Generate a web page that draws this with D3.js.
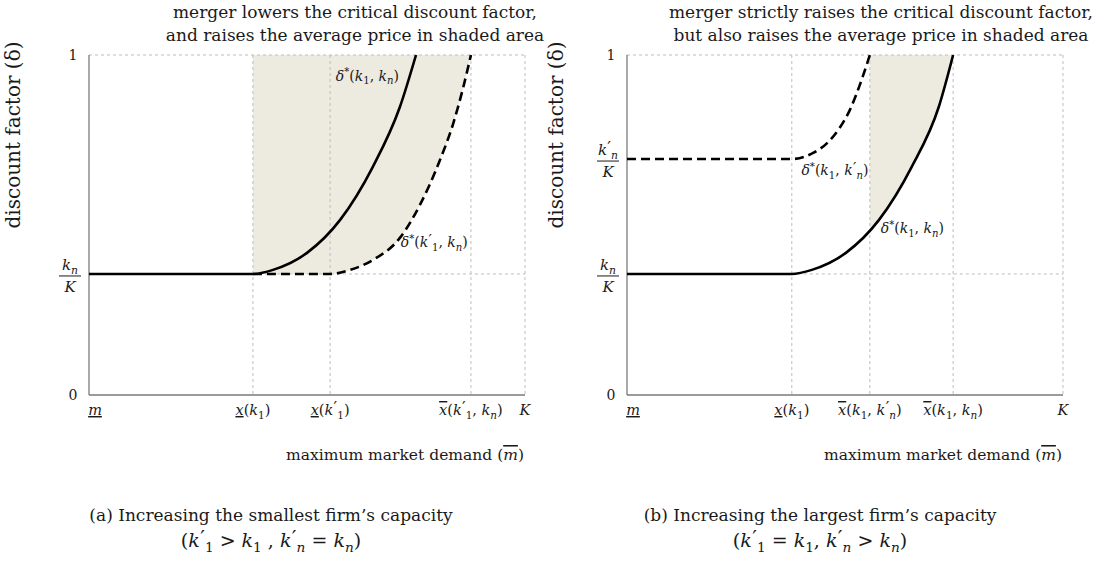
<!DOCTYPE html>
<html><head><meta charset="utf-8">
<script src="https://cdn.jsdelivr.net/npm/d3@7"></script>
<style>html,body{margin:0;padding:0;background:#fff;} svg{display:block;font-family:"DejaVu Serif",serif;}</style>
</head><body><svg id="c" width="1093" height="565"></svg>
<script>
// ---------------- Data ----------------
const yTitle = "discount factor (δ)";
const xTitle = "\\rm{maximum market demand (}\\ol{m}\\rm{)}";

// Panel (a): increasing the smallest firm's capacity
const aTitle = ["merger lowers the critical discount factor,", "and raises the average price in shaded area"];
const aCaption = ["\\rm{(a) Increasing the smallest firm’s capacity}", "(k'_{1} > k_{1} , k'_{n} = k_{n})"];
const aXTicks = [0, 0.376, 0.553, 0.876, 1];
const aXTickLabels = ["\\ul{m}", "\\ul{x}(k_{1})", "\\ul{x}(k'_{1})", "\\ol{x}(k'_{1}, k_{n})", "K"];
const aYTicks = [0, 0.356, 1];
const aYTickLabels = ["0", "k_{n}|K", "1"];
const aSolidX = [0, 0.376, 0.422, 0.500, 0.576, 0.651, 0.713, 0.750];
const aSolidY = [0.356, 0.356, 0.368, 0.418, 0.515, 0.671, 0.847, 1.000];
const aDashX = [0.376, 0.553, 0.599, 0.651, 0.713, 0.759, 0.805, 0.835, 0.858, 0.876];
const aDashY = [0.356, 0.356, 0.368, 0.397, 0.462, 0.559, 0.691, 0.797, 0.903, 1.000];
const aSolidLabel = "δ^{*}(k_{1}, k_{n})";
const aDashLabel = "δ^{*}(k'_{1}, k_{n})";

// Panel (b): increasing the largest firm's capacity
const bTitle = ["merger strictly raises the critical discount factor,", "but also raises the average price in shaded area"];
const bCaption = ["\\rm{(b) Increasing the largest firm’s capacity}", "(k'_{1} = k_{1}, k'_{n} > k_{n})"];
const bXTicks = [0, 0.378, 0.557, 0.748, 1];
const bXTickLabels = ["\\ul{m}", "\\ul{x}(k_{1})", "\\ol{x}(k_{1}, k'_{n})", "\\ol{x}(k_{1}, k_{n})", "K"];
const bYTicks = [0, 0.356, 0.694, 1];
const bYTickLabels = ["0", "k_{n}|K", "k'_{n}|K", "1"];
const bSolidX = [0, 0.378, 0.424, 0.502, 0.578, 0.653, 0.715, 0.748];
const bSolidY = [0.356, 0.356, 0.368, 0.418, 0.515, 0.671, 0.847, 1.000];
const bDashX = [0, 0.378, 0.427, 0.459, 0.489, 0.511, 0.534, 0.557];
const bDashY = [0.694, 0.694, 0.712, 0.741, 0.788, 0.838, 0.912, 1.000];
const bSolidLabel = "δ^{*}(k_{1}, k_{n})";
const bDashLabel = "δ^{*}(k_{1}, k'_{n})";

// ---------------- Math text helper ----------------
function matchBrace(s, i) {
  let d = 0;
  for (let j = i; j < s.length; j++) {
    if (s[j] === '{') d++;
    else if (s[j] === '}') { d--; if (d === 0) return j; }
  }
  return s.length - 1;
}
function renderMath(text, str, size, opts0 = {}) {
  let cur = 0;
  function emit(s, o) {
    const ts = text.append("tspan").text(s);
    const target = (o.shift || 0);
    const dy = target - cur; cur = target;
    if (dy) ts.attr("dy", dy);
    if (o.dx) ts.attr("dx", o.dx);
    ts.attr("font-size", size * (o.scale || 1));
    if (o.italic) ts.attr("font-style", "italic");
    if (o.deco) ts.style("text-decoration", o.deco);
  }
  function parse(s, ctx) {
    let i = 0;
    while (i < s.length) {
      const c = s[i];
      if (s.startsWith("\\ul{", i) || s.startsWith("\\ol{", i) || s.startsWith("\\rm{", i)) {
        const kind = s.slice(i + 1, i + 3);
        const j = matchBrace(s, i + 3);
        const inner = s.slice(i + 4, j);
        if (kind === "rm") parse(inner, { ...ctx, rm: true });
        else parse(inner, { ...ctx, deco: kind === "ul" ? "underline" : "overline" });
        i = j + 1;
      } else if ((c === '_' || c === '^') && s[i + 1] === '{') {
        const j = matchBrace(s, i + 1);
        const inner = s.slice(i + 2, j);
        const sc = (ctx.scale || 1) * 0.72;
        const sh = c === '_' ? size * 0.26 : -size * 0.38;
        parse(inner, { ...ctx, scale: sc, shift: sh, dx: ctx.pendingDx });
        ctx.pendingDx = 0;
        i = j + 1;
      } else if (c === "'") {
        emit("′", { ...ctx, scale: 1.1, shift: -size * 0.12, dx: size * 0.02 });
        i++;
      } else {
        const italic = !ctx.rm && /[A-Za-zδ]/.test(c);
        emit(c, { ...ctx, italic, dx: ctx.dx });
        ctx = { ...ctx, dx: 0 };
        i++;
      }
    }
  }
  parse(str, { ...opts0 });
  return text;
}

// ---------------- Drawing ----------------
const svg = d3.select("#c");
const gridColor = "#bdbdbd";
const axisColor = "#7a7a7a";
const shadeColor = "#edeae0";
const ink = "#1a1a1a";

const panels = [
  { id: "a", left: 89, right: 525, title: aTitle, titleX: 355, caption: aCaption, capX: 271, xTitleX: 405,
    xt: aXTicks, xtl: aXTickLabels, yt: aYTicks, ytl: aYTickLabels,
    sx: aSolidX, sy: aSolidY, dx: aDashX, dy: aDashY, sl: aSolidLabel, dl: aDashLabel,
    slPos: [0.566, 0.925], dlPos: [0.715, 0.435], yTitleX: 20, shade: "dash", clipFrom: aXTicks[1] },
  { id: "b", left: 627, right: 1063, title: bTitle, titleX: 881, caption: bCaption, capX: 820, xTitleX: 943,
    xt: bXTicks, xtl: bXTickLabels, yt: bYTicks, ytl: bYTickLabels,
    sx: bSolidX, sy: bSolidY, dx: bDashX, dy: bDashY, sl: bSolidLabel, dl: bDashLabel,
    slPos: [0.582, 0.476], dlPos: [0.400, 0.647], yTitleX: 563, shade: "solid", clipFrom: bXTicks[2] }
];
const plotTop = 55, plotBottom = 395;

panels.forEach(p => {
  const x = d3.scaleLinear().domain([0, 1]).range([p.left, p.right]);
  const y = d3.scaleLinear().domain([0, 1]).range([plotBottom, plotTop]);
  const g = svg.append("g");

  const clipId = "clip-" + p.id;
  svg.append("clipPath").attr("id", clipId).append("rect")
    .attr("x", x(p.clipFrom)).attr("y", y(1)).attr("width", x(1) - x(p.clipFrom)).attr("height", y(0) - y(1));

  const shX = p.shade === "dash" ? p.dx : p.sx;
  const shY = p.shade === "dash" ? p.dy : p.sy;
  const shadePts = shX.map((v, i) => [v, shY[i]]);
  g.append("path").datum(shadePts)
    .attr("clip-path", `url(#${clipId})`)
    .attr("fill", shadeColor)
    .attr("d", d3.area().x(d => x(d[0])).y0(d => y(d[1])).y1(y(1)).curve(d3.curveMonotoneX));

  const grid = g.append("g").attr("stroke", gridColor).attr("stroke-width", 1).attr("stroke-dasharray", "3,3").attr("fill", "none");
  grid.append("line").attr("x1", x(0)).attr("x2", x(1)).attr("y1", y(1)).attr("y2", y(1));
  p.xt.slice(1).forEach(t => grid.append("line").attr("x1", x(t)).attr("x2", x(t)).attr("y1", y(1)).attr("y2", y(0)));
  grid.append("line").attr("x1", x(p.xt[1])).attr("x2", x(1)).attr("y1", y(p.sy[0])).attr("y2", y(p.sy[0]));

  g.append("line").attr("x1", x(0)).attr("x2", x(0)).attr("y1", y(0)).attr("y2", y(1)).attr("stroke", axisColor).attr("stroke-width", 1.3);
  g.append("line").attr("x1", x(0)).attr("x2", x(1)).attr("y1", y(0)).attr("y2", y(0)).attr("stroke", axisColor).attr("stroke-width", 1.3);

  const line = d3.line().x(d => x(d[0])).y(d => y(d[1])).curve(d3.curveMonotoneX);
  g.append("path").datum(p.dx.map((v, i) => [v, p.dy[i]]))
    .attr("fill", "none").attr("stroke", "#000").attr("stroke-width", 2.6).attr("stroke-dasharray", "9,5").attr("d", line);
  g.append("path").datum(p.sx.map((v, i) => [v, p.sy[i]]))
    .attr("fill", "none").attr("stroke", "#000").attr("stroke-width", 2.6).attr("d", line);

  renderMath(g.append("text").attr("x", x(p.slPos[0])).attr("y", y(p.slPos[1])).attr("fill", ink), p.sl, 14);
  renderMath(g.append("text").attr("x", x(p.dlPos[0])).attr("y", y(p.dlPos[1])).attr("fill", ink), p.dl, 14);

  p.xt.forEach((t, i) => {
    const off = i === 0 ? 6 : 0;
    renderMath(g.append("text").attr("x", x(t) + off).attr("y", 415).attr("text-anchor", "middle").attr("fill", ink), p.xtl[i], 14.5);
  });
  p.yt.forEach((t, i) => {
    const lab = p.ytl[i];
    const cx = x(0) - 19, cy = y(t);
    if (lab.includes("|")) {
      const [num, den] = lab.split("|");
      renderMath(g.append("text").attr("x", cx).attr("y", cy - 4).attr("text-anchor", "middle").attr("fill", ink), num, 15);
      g.append("line").attr("x1", cx - 11).attr("x2", cx + 11).attr("y1", cy + 2).attr("y2", cy + 2).attr("stroke", ink).attr("stroke-width", 1);
      renderMath(g.append("text").attr("x", cx).attr("y", cy + 18).attr("text-anchor", "middle").attr("fill", ink), den, 15);
    } else {
      g.append("text").attr("x", cx + 3).attr("y", cy + 5).attr("text-anchor", "middle").attr("font-size", 14).attr("fill", ink).text(lab);
    }
  });

  g.append("text").attr("transform", `translate(${p.yTitleX},135) rotate(-90)`).attr("text-anchor", "middle")
    .attr("font-size", 20).attr("fill", ink).text(yTitle);

  renderMath(g.append("text").attr("x", p.xTitleX).attr("y", 460).attr("text-anchor", "middle").attr("fill", ink), xTitle, 15.5);

  p.title.forEach((t, i) => g.append("text").attr("x", p.titleX).attr("y", 18 + i * 23).attr("text-anchor", "middle")
    .attr("font-size", 17).attr("fill", ink).text(t));

  p.caption.forEach((t, i) => renderMath(g.append("text").attr("x", p.capX).attr("y", 521 + i * 26).attr("text-anchor", "middle").attr("fill", ink), t, i === 0 ? 17 : 19));
});
</script></body></html>
